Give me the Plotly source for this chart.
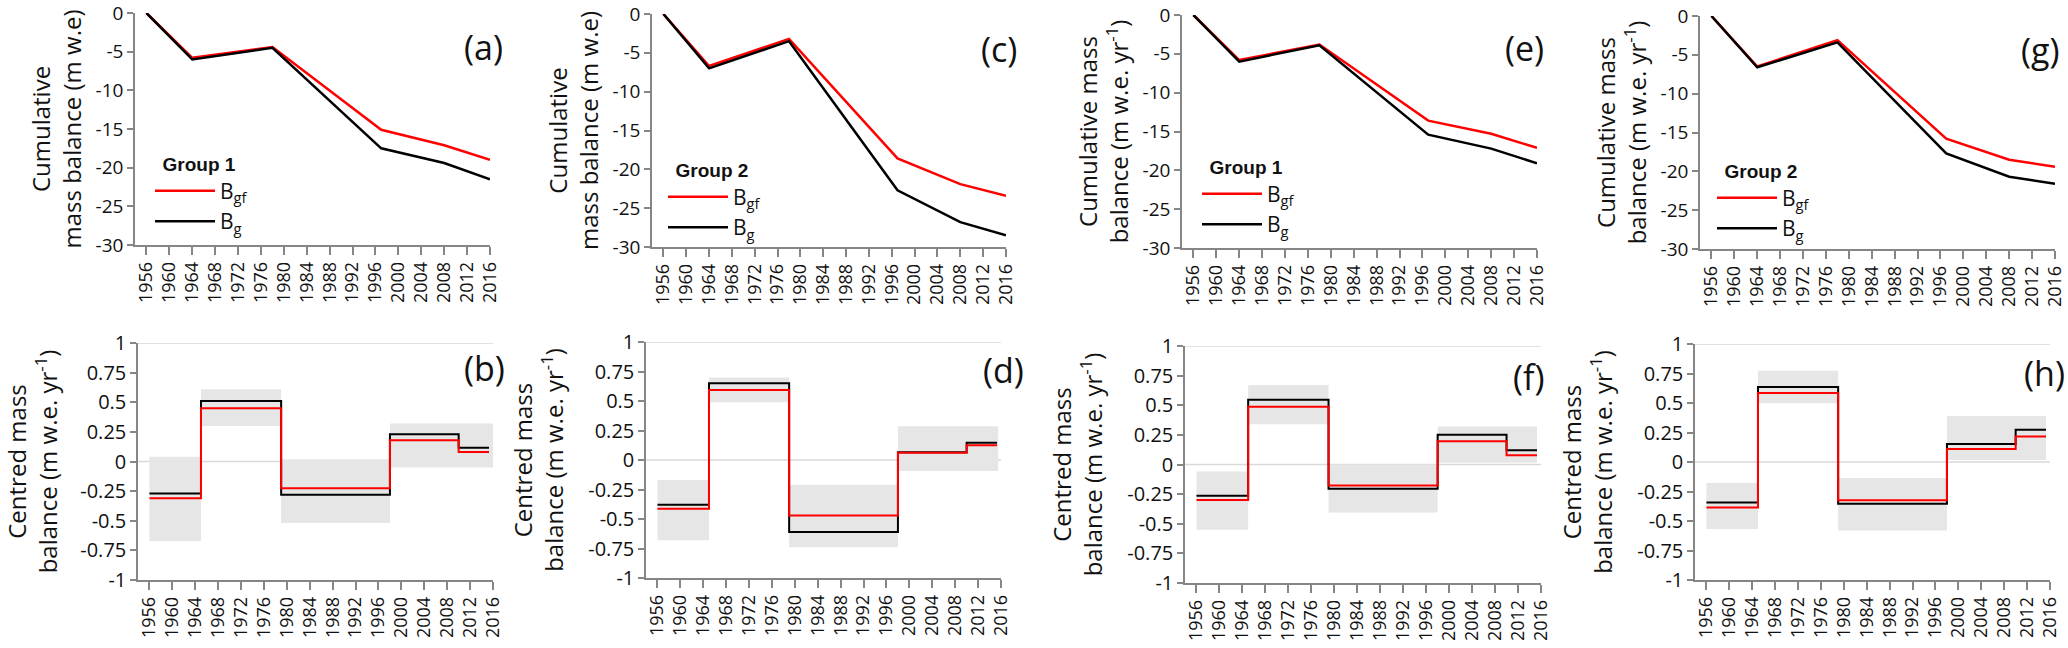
import plotly.graph_objects as go

# ---------------- data ----------------
years_cum = [1956, 1964, 1978, 1997, 2008, 2016]
a_bgf = [0, -5.8, -4.4, -15.1, -17.1, -19.0]
a_bg = [0, -6.0, -4.5, -17.5, -19.4, -21.5]
c_bgf = [0, -6.7, -3.2, -18.6, -21.9, -23.4]
c_bg = [0, -7.0, -3.5, -22.7, -26.8, -28.5]
e_bgf = [0, -5.8, -3.8, -13.6, -15.3, -17.1]
e_bg = [0, -6.0, -3.9, -15.4, -17.2, -19.1]
g_bgf = [0, -6.5, -3.1, -15.8, -18.5, -19.4]
g_bg = [0, -6.6, -3.4, -17.7, -20.7, -21.6]

step_edges = [1956, 1965, 1979, 1998, 2010, 2015.3]
b_bgf = [-0.31, 0.45, -0.225, 0.18, 0.08]
b_bg = [-0.27, 0.51, -0.28, 0.23, 0.115]
d_bgf = [-0.414, 0.594, -0.47, 0.062, 0.124]
d_bg = [-0.38, 0.65, -0.61, 0.065, 0.146]
f_bgf = [-0.30, 0.487, -0.177, 0.197, 0.079]
f_bg = [-0.264, 0.546, -0.205, 0.25, 0.12]
h_bgf = [-0.386, 0.584, -0.324, 0.11, 0.217]
h_bg = [-0.344, 0.635, -0.353, 0.152, 0.274]

band_starts = [1956, 1965, 1979, 1998]
b_band_ends = [1965, 1979, 1998, 2017]
d_band_ends = [1965, 1979, 1998, 2015.5]
f_band_ends = [1965, 1979, 1998, 2015.3]
h_band_ends = [1965, 1979, 1998, 2015.3]
b_band_low = [-0.67, 0.30, -0.52, -0.05]
b_band_high = [0.04, 0.61, 0.02, 0.32]
d_band_low = [-0.68, 0.49, -0.74, -0.093]
d_band_high = [-0.17, 0.70, -0.21, 0.285]
f_band_low = [-0.55, 0.34, -0.405, 0.014]
f_band_high = [-0.06, 0.67, 0.0, 0.32]
h_band_low = [-0.567, 0.497, -0.58, 0.017]
h_band_high = [-0.178, 0.773, -0.135, 0.39]

x_ticks = list(range(1956, 2017, 4))
x_ticklabels = [str(v) for v in x_ticks]
cum_ticks = [0, -5, -10, -15, -20, -25, -30]
cum_ticklabels = ["0", "-5", "-10", "-15", "-20", "-25", "-30"]
cen_ticks = [1, 0.75, 0.5, 0.25, 0, -0.25, -0.5, -0.75, -1]
cen_ticklabels = ["1", "0.75", "0.5", "0.25", "0", "-0.25", "-0.5", "-0.75", "-1"]

panel_labels = ["(a)", "(b)", "(c)", "(d)", "(e)", "(f)", "(g)", "(h)"]
group_names = ["Group 1", "Group 2", "Group 1", "Group 2"]
cum_titles = ["Cumulative<br>mass balance (m w.e)",
              "Cumulative<br>mass balance (m w.e)",
              "Cumulative mass<br>balance (m w.e. yr<sup>-1</sup>)",
              "Cumulative mass<br>balance (m w.e. yr<sup>-1</sup>)"]
cen_title = "Centred mass<br>balance (m w.e. yr<sup>-1</sup>)"

# ---------------- layout geometry (pixels) ----------------
W, H = 2068, 648
# (left, right, top, bottom) per panel a..h
boxes = [
    (135, 490, 13, 245), (138, 493, 343, 580),
    (652, 1006, 14, 247), (646, 1001, 342, 578),
    (1182, 1537, 15, 248), (1185, 1541, 346, 583),
    (1700, 2055, 16, 249), (1695, 2050, 344, 580),
]
label_pos = [(462, 47), (462, 368), (979, 49), (981, 370),
             (1503, 48), (1511, 377), (2019, 50), (2022, 373)]
legend_pos = [(150, 146), (663, 152), (1197, 149), (1712, 153)]

RED = "#ff0000"
BLACK = "#000000"
AXIS = "#868686"
BAND = "#e6e6e6"
TXT = "#111111"
FONT = "Open Sans, Lato, sans-serif"

fig = go.Figure()

cum_sets = [(a_bgf, a_bg), (c_bgf, c_bg), (e_bgf, e_bg), (g_bgf, g_bg)]
cen_sets = [(b_bgf, b_bg, b_band_ends, b_band_low, b_band_high),
            (d_bgf, d_bg, d_band_ends, d_band_low, d_band_high),
            (f_bgf, f_bg, f_band_ends, f_band_low, f_band_high),
            (h_bgf, h_bg, h_band_ends, h_band_low, h_band_high)]

for k in range(4):
    top = 2 * k + 1
    bot = 2 * k + 2
    lg = "legend" if k == 0 else f"legend{k + 1}"
    bgf, bg = cum_sets[k]
    fig.add_trace(go.Scatter(x=years_cum, y=bgf, mode="lines", name="B<sub>gf</sub>",
                             line=dict(color=RED, width=2.5),
                             xaxis=f"x{top}", yaxis=f"y{top}", legend=lg))
    fig.add_trace(go.Scatter(x=years_cum, y=bg, mode="lines", name="B<sub>g</sub>",
                             line=dict(color=BLACK, width=2.5),
                             xaxis=f"x{top}", yaxis=f"y{top}", legend=lg))

    cbgf, cbg, ends, lows, highs = cen_sets[k]
    mids = [(s + e) / 2 for s, e in zip(band_starts, ends)]
    widths = [e - s for s, e in zip(band_starts, ends)]
    heights = [hi - lo for lo, hi in zip(lows, highs)]
    fig.add_trace(go.Bar(x=mids, y=heights, base=lows, width=widths,
                         marker=dict(color=BAND, line=dict(width=0)),
                         showlegend=False, hoverinfo="skip",
                         xaxis=f"x{bot}", yaxis=f"y{bot}"))
    fig.add_trace(go.Scatter(x=step_edges, y=cbg + [cbg[-1]], mode="lines",
                             line=dict(color=BLACK, width=2, shape="hv"),
                             showlegend=False, xaxis=f"x{bot}", yaxis=f"y{bot}"))
    fig.add_trace(go.Scatter(x=step_edges, y=cbgf + [cbgf[-1]], mode="lines",
                             line=dict(color=RED, width=2, shape="hv"),
                             showlegend=False, xaxis=f"x{bot}", yaxis=f"y{bot}"))

layout = dict(width=W, height=H, margin=dict(l=0, r=0, t=0, b=0, pad=0),
              autosize=False, template="none",
              paper_bgcolor="white", plot_bgcolor="white",
              showlegend=True, barmode="overlay",
              font=dict(family=FONT, color=TXT))

shapes = []
annotations = []
for i, (l, r, t, b) in enumerate(boxes):
    n = i + 1
    is_top = (i % 2 == 0)
    xa = dict(domain=[l / W, r / W], range=[1954, 2016], anchor=f"y{n}",
              automargin=False, ticklabeloverflow="allow",
              tickmode="array", tickvals=x_ticks, ticktext=x_ticklabels,
              tickangle=-90, ticks="outside", ticklen=8, tickwidth=1.5,
              tickcolor=AXIS, showline=True, linecolor=AXIS, linewidth=1.5,
              showgrid=False, zeroline=False,
              tickfont=dict(family=FONT, size=18, color=TXT))
    ya = dict(domain=[1 - b / H, 1 - t / H], anchor=f"x{n}",
              automargin=False, ticklabeloverflow="allow",
              ticks="outside", ticklen=6, tickwidth=1.5, tickcolor=AXIS,
              showline=True, linecolor=AXIS, linewidth=1.5,
              showgrid=False, zeroline=False, tickmode="array",
              tickfont=dict(family=FONT, size=20, color=TXT))
    if is_top:
        ya.update(range=[-30, 0], tickvals=cum_ticks, ticktext=cum_ticklabels,
                  tickfont=dict(family=FONT, size=19, color=TXT),
                  title=dict(text=cum_titles[i // 2], standoff=7,
                             font=dict(family=FONT, size=24, color=TXT)))
    else:
        ya.update(range=[-1, 1], tickvals=cen_ticks, ticktext=cen_ticklabels,
                  title=dict(text=cen_title, standoff=18,
                             font=dict(family=FONT, size=24, color=TXT)))
        for gv in (0, 1):
            shapes.append(dict(type="line", xref=f"x{n} domain", yref=f"y{n}",
                               x0=0, x1=1, y0=gv, y1=gv, layer="below",
                               line=dict(color="#d9d9d9", width=1.5)))
    layout[f"xaxis{n}"] = xa
    layout[f"yaxis{n}"] = ya
    lx, ly = label_pos[i]
    annotations.append(dict(text=panel_labels[i], xref="paper", yref="paper",
                            x=lx / W, y=1 - ly / H, xanchor="left", yanchor="middle",
                            showarrow=False,
                            font=dict(family=FONT, size=34, color=TXT)))

for k in range(4):
    key = "legend" if k == 0 else f"legend{k + 1}"
    lx, ly = legend_pos[k]
    layout[key] = dict(x=lx / W, y=1 - ly / H, xanchor="left", yanchor="top",
                       bgcolor="rgba(0,0,0,0)", borderwidth=0, itemwidth=60,
                       title=dict(text="\u00a0\u00a0" + group_names[k],
                                  font=dict(family="Liberation Sans, Arial", size=19,
                                            color=TXT, weight="bold")),
                       font=dict(family=FONT, size=21, color=TXT),
                       tracegroupgap=0)

layout["shapes"] = shapes
layout["annotations"] = annotations
fig.update_layout(**layout)

fig.write_html("out.html", config={"displayModeBar": False},
               post_script="document.body.style.margin='0px';"
                           "document.body.style.overflow='hidden';")
